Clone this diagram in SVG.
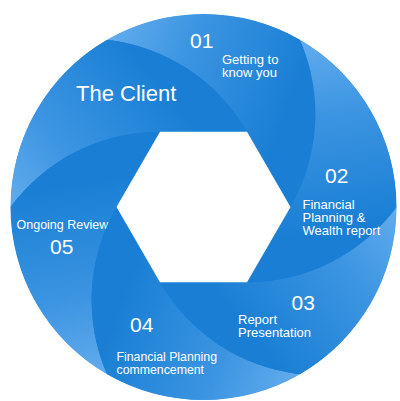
<svg xmlns="http://www.w3.org/2000/svg" xmlns:xlink="http://www.w3.org/1999/xlink" width="400" height="401" viewBox="0 0 400 401">
<style>
text{font-family:"Liberation Sans",Arial,sans-serif;fill:#ffffff}
.num{font-size:21px}
.lbl{font-size:13px}
.big{font-size:22px}
</style>
<defs>
<linearGradient id="g" gradientUnits="userSpaceOnUse" x1="110" y1="32" x2="290" y2="100">
<stop offset="0" stop-color="#62acec"/>
<stop offset="0.4" stop-color="#3d95e2"/>
<stop offset="1" stop-color="#1a7fd4"/>
</linearGradient>
<path id="blade" fill="url(#g)" d="M 290.5 207 L 247 131.66 A 186 186 0 0 0 107 39.86 A 193 193 0 0 1 300 39.86 A 186 186 0 0 1 290.5 207 Z"/>
</defs>
<rect width="400" height="401" fill="#ffffff"/>
<circle cx="203.5" cy="207" r="192.6" fill="#1a7fd4"/>
<g id="step01"><use xlink:href="#blade"/>
<text class="num" x="190" y="48">01</text>
<text class="lbl" x="222" y="63.5">Getting to</text>
<text class="lbl" x="222" y="76.5">know you</text></g>
<g id="client"><use xlink:href="#blade" transform="rotate(-60 203.5 207)"/>
<text class="big" x="76" y="101">The Client</text></g>
<g id="step05"><use xlink:href="#blade" transform="rotate(-120 203.5 207)"/>
<text class="lbl" x="16.5" y="229" style="font-size:12.5px">Ongoing Review</text>
<text class="num" x="50" y="254">05</text></g>
<g id="step04"><use xlink:href="#blade" transform="rotate(180 203.5 207)"/>
<text class="num" x="130" y="331.7">04</text>
<text class="lbl" x="116.5" y="360.5" style="font-size:12.3px">Financial Planning</text>
<text class="lbl" x="116.5" y="373.5" style="font-size:12.3px">commencement</text></g>
<g id="step03"><use xlink:href="#blade" transform="rotate(120 203.5 207)"/>
<text class="num" x="291.5" y="310">03</text>
<text class="lbl" x="238" y="324.3">Report</text>
<text class="lbl" x="238" y="337.3">Presentation</text></g>
<g id="step02"><use xlink:href="#blade" transform="rotate(60 203.5 207)"/>
<text class="num" x="325" y="183">02</text>
<text class="lbl" x="302.5" y="208.5">Financial</text>
<text class="lbl" x="302.5" y="221.5">Planning &amp;</text>
<text class="lbl" x="302.5" y="234.5">Wealth report</text></g>
<polygon id="hub" fill="#ffffff" points="116.5,207 160,131.66 247,131.66 290.5,207 247,282.34 160,282.34"/>
</svg>
